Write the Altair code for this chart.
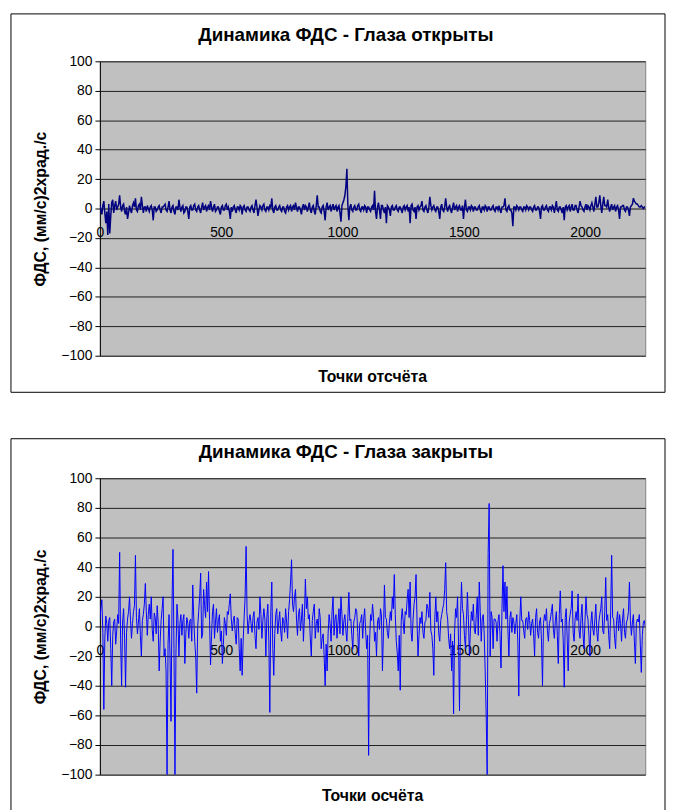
import altair as alt
import pandas as pd

# ---------------- data (on an even grid of 553 points over 0..2248) ----------------
X_MAX = 2248

title_open = "Динамика ФДС - Глаза открыты"
title_closed = "Динамика ФДС - Глаза закрыты"
y_title = "ФДС, (мм/с)2храд./с"
x_title_open = "Точки отсчёта"
x_title_closed = "Точки осчёта"

x_ticks = [0, 500, 1000, 1500, 2000]
y_ticks = [-100, -80, -60, -40, -20, 0, 20, 40, 60, 80, 100]

open_values = [
    3, -1, -4, 2, 5, -3, -10, -2, -18, 3, -17, -5, 4, 6, -3, 2, 5, -1, 1, 3,
    9, 1, -2, 2, 3, -2, -4, 1, -7, -3, 2, -1, -3, 2, 4, 1, 7, -1, -2, 2,
    3, -1, 8, 2, -3, 1, 1, -2, 2, 0,
    -2, 1, 2, -1, -8, 1, 1, -2, -1, 1, 2, -1, -3, 1, 1, 2, 3, -1, -2, 1,
    5, -1, -3, 1, 2, -2, -4, 1, 1, -1, 6, 1, -2, 1, 2, -3, -2, 1, 1, -2,
    -7, 1, 2, -1, -1, 2, 3, -1, -2, 1,
    2, -1, -3, 1, 4, -1, 1, 2, -2, 1, 2, -1, 5, 1, -2, 1, 3, -2, -1, 1,
    1, -2, -4, 1, 2, -1, -1, 2, 3, -1, 1, -2, -7, 1, -2, 1, 2, -1, -3, 1,
    1, -1, 2, 1, -4, 1, 2, -1, -2, 1,
    1, -1, -2, 1, 2, -1, -3, 2, 6, 1, -5, -1, 2, 1, -1, 2, 3, -1, -2, 1,
    1, -1, 2, 1, 7, -1, -3, 1, 2, -1, -1, 1, 2, -1, -2, 1, 1, -2, -3, 1,
    2, -1, 1, 2, -2, 1, 2, -1, 4, 1,
    -2, 1, 1, -1, -4, 1, 3, -1, 2, 1, -2, 1, 4, -1, -3, 1, 2, -2, -4, 2,
    9, 1, 1, -2, -3, 1, 2, -2, -8, 1, 4, -1, 1, 2, -2, 1, 3, -1, 1, 2,
    -2, 1, 2, -3, -9, 2, 4, 6, 9, 15,
    27, 2, -8, 1, 3, -1, -2, 1, 2, -1, -1, 2, 3, -1, -2, 1, 1, -1, 2, 1,
    -3, 1, 1, -1, -2, 1, 2, -1, 12, -2, -7, 1, 4, -1, -7, 2, 2, -1, -3, 1,
    -10, 2, 1, -1, -5, 1, 2, -1, -1, 1,
    2, -1, -2, 1, 1, -1, -3, 1, 2, -1, 1, 2, -2, 1, -10, 2, 3, -1, -2, 1,
    -7, 1, 2, -1, 1, 2, 5, -1, -2, 1, 2, -1, -3, 1, 8, 2, -1, 1, 2, -1,
    -2, 1, 1, -2, -7, 1, 3, -1, -2, 1,
    7, 1, -2, 1, 2, -1, -3, 1, 4, -1, 1, 2, -2, 1, 2, -1, -1, 2, -7, 1,
    6, -1, -2, 1, 1, -1, 2, 1, -2, 1, 1, -1, -1, 1, 2, -1, -3, 1, 1, -1,
    2, 1, -2, 1, 1, -1, -1, 1, 2, -1,
    -2, 1, 1, -1, 2, -1, -3, 1, 1, 2, 7, -1, -2, 1, 2, -1, -1, -3, -12, 1,
    1, -1, 2, 1, -1, 1, 1, -1, -2, 1, 1, -1, 2, 1, -1, 1, 1, -1, -2, 1,
    2, -1, -1, 1, 1, -2, -7, 1, 2, -1,
    -1, 1, 2, -1, -2, 1, 1, -1, 2, 1, -3, 1, 5, -1, -2, 1, 1, -1, -3, 1,
    -8, 1, 2, -1, 1, 2, -2, 1, 3, -1, -1, 2, 2, -1, -3, 1, 5, 2, 1, -1,
    -2, 1, 3, -1, 2, 1, -1, 2, 4, 1,
    -2, 3, 8, 1, 1, 4, 9, 2, -3, 3, 8, 2, 2, 1, 6, 1, -2, 1, 3, -1,
    1, 2, -2, 1, 2, -1, -7, 1, 1, 2, 2, -1, -2, 1, 1, -1, -5, 1, 2, 3,
    7, 5, 4, 3, 3, 2, 1, 1, 2, 1, 0, 1, 1,
]

closed_values = [
    5, 12, 18, -4, -56, -8, 7, 2, -10, 4, 6, -15, -40, -6, 3, 5, -12, -3, 8, 2,
    50, -10, -40, 3, 12, -8, -41, -4, 5, 10, 20, 4, -8, 2, 10, 14, 48, 6, -5, 3,
    12, -6, -20, 4, 8, 15, 29, 10, -6, 8,
    15, 5, 20, -2, -10, 9, 6, -5, 14, 3, -30, -10, 4, 12, 20, -20, -15, -30, -100, -12,
    8, -20, -64, 15, 52, -15, -100, -18, 15, 5, -20, 2, 8, -6, 4, 8, -25, -5, 6, 2,
    -8, 4, 5, -10, 28, 6, -10, -20, -45, 0,
    10, 20, 36, -8, -5, 25, 14, 6, 30, 10, 37, 4, -26, -6, 10, 15, -8, 3, 12, -4,
    4, 8, -10, -3, -25, -12, 6, 2, -6, 10, 8, 15, 22, 5, -3, 4, 7, -5, -12, 6,
    5, -15, -30, -8, -33, -10, 6, 20, 54, 8,
    -5, 4, 8, 2, -4, 6, 10, -6, -15, 3, 6, -2, 20, 8, -8, 4, 12, 5, -20, 6,
    15, -10, -58, 10, 30, -15, -33, -5, 8, 12, -5, 3, 10, -3, -10, 6, 4, -4, 12, 3,
    -8, 10, 18, 30, 45, 15, 10, 20, 25, 5,
    -6, 8, 12, -3, 5, 15, -10, 6, 32, 12, 20, 5, 8, -8, -20, 4, 10, 15, -8, 2,
    5, -4, 12, 6, -15, -8, -5, -20, -40, -12, -30, -5, 8, 2, -10, 10, 20, -6, 5, 8,
    -8, 3, 12, -5, 20, 8, -6, 4, 8, -3,
    -10, 6, 23, 4, 5, -6, -15, 3, 6, 12, 10, -4, -20, 2, 4, 8, -8, 5, 12, -3,
    -15, -6, -87, -10, 8, 4, 15, 6, -10, -4, -20, 3, 6, -2, 12, 8, -30, -5, 28, 6,
    5, -4, -8, 2, 10, 4, 20, 12, 35, 8,
    -10, -18, -30, -6, -43, 4, 12, 3, -5, 10, 8, 18, 25, 6, 30, -4, -10, 5, 15, 20,
    35, 4, -20, -6, 6, 2, 10, -4, -8, 3, 4, 15, 12, 6, 23, -3, -6, -15, -33, 5,
    20, 3, 10, -5, -10, 4, 8, 12, 15, 25,
    43, 10, 5, -8, -15, -5, -30, -10, -59, -4, 12, 6, 20, -10, -57, 5, 30, 12, 8, -6,
    -15, 4, 23, 5, -20, -3, 10, 4, 15, -2, -5, 8, 20, -6, 30, 10, -10, 5, 8, -5,
    -30, -60, -100, 50, 83, -20, 10, 6, -15, 5,
    5, 3, -10, 4, 8, -6, -28, 12, 41, 10, 30, 5, 27, -3, -20, 6, 10, -4, 6, 3,
    -5, 2, 8, -10, -47, 3, 20, 4, 4, -3, -8, 5, 6, -2, 10, 4, -6, 2, 5, -5,
    -20, 6, 12, -4, -8, 3, 6, -10, -40, 2,
    8, 4, 12, -3, -10, 2, 5, 10, 15, -2, -8, 4, 10, -6, -25, 8, 24, 3, 5, -10,
    -41, 6, 12, -8, -30, 3, 8, 12, 24, -4, -10, 5, 10, 4, 22, -3, -8, 6, 15, -5,
    -15, 4, 20, 8, 5, -6, -20, 3, 10, -2,
    -6, 5, 15, -4, -10, 3, 8, 12, 20, -3, -5, 10, 33, 4, 8, -6, -15, 10, 48, 6,
    5, -8, -15, 4, 10, -3, 8, 2, -10, 5, 12, -4, -8, 3, 5, 10, 30, 4, -6, 3,
    8, -10, -25, 2, 5, 3, 8, -12, -31, -6, 2, 4, 0,
]

W = 552
FONT = "Liberation Sans"


def panel(values, color, stroke_w, title, x_title, height, frame_top, frame_bottom):
    n = len(values)
    df = pd.DataFrame({"x": [i * X_MAX / (n - 1) for i in range(n)], "y": values})
    one = pd.DataFrame({"t": [title], "xt": [x_title]})

    line = alt.Chart(df).mark_line(color=color, strokeWidth=stroke_w, clip=True).encode(
        x=alt.X("x:Q", scale=alt.Scale(domain=[0, X_MAX], nice=False, zero=False),
                axis=alt.Axis(values=x_ticks, format="d", title=None, grid=False, ticks=False,
                              offset=-height / 2, domainColor="#606060", domainWidth=1,
                              labelFont=FONT, labelFontSize=14, labelColor="black",
                              labelPadding=17, labelAlign="center")),
        y=alt.Y("y:Q", scale=alt.Scale(domain=[-100, 100], nice=False),
                axis=alt.Axis(values=y_ticks, title=y_title, grid=True, gridColor="#202020",
                              gridWidth=1, tickSize=5, tickColor="black", domainColor="black",
                              labelFont=FONT, labelFontSize=14, labelColor="black", labelPadding=3,
                              titleFont=FONT, titleFontSize=16, titleFontWeight="bold",
                              titleColor="black", titlePadding=12)),
    )

    frame = alt.Chart(one).mark_rect(fillOpacity=0, stroke="black", strokeWidth=1).encode(
        x=alt.value(-90), x2=alt.value(572), y=alt.value(frame_top), y2=alt.value(frame_bottom)
    )

    head = alt.Chart(one).mark_text(font=FONT, fontSize=19, fontWeight="bold", color="black",
                                    align="center", baseline="middle").encode(
        text="t:N", x=alt.value(249), y=alt.value(-27)
    )

    foot = alt.Chart(one).mark_text(font=FONT, fontSize=16, fontWeight="bold", color="black",
                                    align="center", baseline="middle").encode(
        text="xt:N", x=alt.value(W / 2), y=alt.value(height + 22)
    )

    return alt.layer(frame, line, head, foot).properties(width=W, height=height)


top = panel(open_values, "#000080", 1.5, title_open, x_title_open, 298, -48, 335)
bottom = panel(closed_values, "#0000FF", 1.0, title_closed, x_title_closed, 300, -40, 345)

chart = alt.vconcat(top, bottom, spacing=45).properties(
    padding={"left": 2, "top": 0, "right": 0, "bottom": 0}
).configure_view(fill="#C0C0C0", stroke="#808080")

chart.save("out.html", embed_options={"renderer": "svg", "actions": False})
